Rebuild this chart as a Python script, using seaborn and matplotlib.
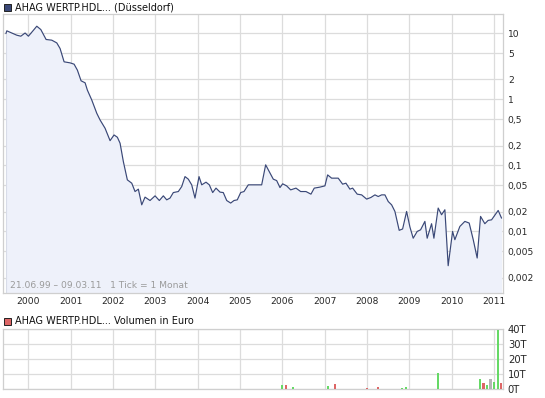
import matplotlib
matplotlib.use("Agg")
import matplotlib.pyplot as plt
from matplotlib.patches import Rectangle
import seaborn as sns
import pandas as pd

# ---------------- data ----------------
price_t = [1999.469, 1999.49, 1999.608, 1999.726, 1999.821, 1999.922, 2000.0, 2000.118, 2000.198,
           2000.293, 2000.418, 2000.552, 2000.67, 2000.748, 2000.843, 2000.984, 2001.079, 2001.157,
           2001.244, 2001.339, 2001.393, 2001.497, 2001.615, 2001.693, 2001.811, 2001.929, 2002.023,
           2002.101, 2002.165, 2002.243, 2002.337, 2002.441, 2002.519, 2002.597, 2002.677, 2002.755,
           2002.873, 2002.991, 2003.093, 2003.187, 2003.267, 2003.345, 2003.423, 2003.541, 2003.621,
           2003.699, 2003.777, 2003.857, 2003.935, 2004.03, 2004.094, 2004.195, 2004.273, 2004.353,
           2004.431, 2004.526, 2004.603, 2004.684, 2004.778, 2004.856, 2004.934, 2005.014, 2005.092,
           2005.194, 2005.51, 2005.604, 2005.689, 2005.784, 2005.864, 2005.942, 2006.006, 2006.1,
           2006.195, 2006.32, 2006.431, 2006.556, 2006.674, 2006.752, 2006.886, 2007.004, 2007.068,
           2007.162, 2007.318, 2007.422, 2007.5, 2007.594, 2007.658, 2007.767, 2007.871, 2007.989,
           2008.09, 2008.185, 2008.263, 2008.343, 2008.421, 2008.499, 2008.579, 2008.657, 2008.758,
           2008.839, 2008.933, 2009.011, 2009.089, 2009.183, 2009.264, 2009.365, 2009.419, 2009.523,
           2009.578, 2009.679, 2009.759, 2009.837, 2009.915, 2010.019, 2010.073, 2010.191, 2010.309,
           2010.411, 2010.507, 2010.6, 2010.68, 2010.781, 2010.859, 2010.94, 2011.096, 2011.176]
price_v = [9.9, 10.9, 10.1, 9.36, 9.04, 10.1, 9.04, 11.1, 12.8,
           11.4, 8.06, 7.87, 7.16, 5.89, 3.70, 3.57, 3.41, 2.77,
           1.91, 1.78, 1.38, 0.976, 0.615, 0.487, 0.365, 0.237, 0.289,
           0.267, 0.217, 0.114, 0.0604, 0.0538, 0.0402, 0.0437, 0.0253, 0.0331,
           0.0294, 0.0346, 0.0294, 0.0346, 0.0301, 0.0320, 0.0388, 0.0402, 0.0478,
           0.0677, 0.0619, 0.0508, 0.0320, 0.0677, 0.0508, 0.0557, 0.0508, 0.0388,
           0.0453, 0.0394, 0.0388, 0.0294, 0.0269, 0.0294, 0.0301, 0.0388, 0.0402,
           0.0508, 0.0508, 0.102, 0.0805, 0.0619, 0.0589, 0.0462, 0.0526, 0.0490,
           0.0426, 0.0453, 0.0402, 0.0402, 0.0367, 0.0453, 0.0469, 0.0490, 0.0718,
           0.0641, 0.0641, 0.0520, 0.0538, 0.0437, 0.0453, 0.0367, 0.0358, 0.0309,
           0.0327, 0.0358, 0.0338, 0.0358, 0.0358, 0.0284, 0.0253, 0.0201, 0.0104,
           0.0109, 0.0201, 0.0117, 0.0079, 0.0100, 0.0106, 0.0142, 0.0079, 0.0131,
           0.0079, 0.0226, 0.0179, 0.0213, 0.00303, 0.0100, 0.0075, 0.0119, 0.0142,
           0.0134, 0.0075, 0.00396, 0.0169, 0.0131, 0.0147, 0.0150, 0.0208, 0.0159]

vol_t = [2005.985, 2006.079, 2006.244, 2007.068, 2007.236, 2007.99, 2008.248, 2008.817,
         2008.912, 2009.672, 2010.66, 2010.75, 2010.824, 2010.916, 2010.99, 2011.084, 2011.16]
vol_v = [2700, 2800, 1300, 2000, 3300, 700, 1300, 700,
         1300, 10700, 6700, 4000, 2700, 6700, 4700, 39300, 4000]
vol_dir = ["up", "down", "up", "up", "down", "down", "down", "up",
           "up", "up", "up", "down", "up", "flat", "up", "up", "down"]

years = list(range(2000, 2012))
price_ticks = [10, 5, 2, 1, 0.5, 0.2, 0.1, 0.05, 0.02, 0.01, 0.005, 0.002]
price_tick_labels = ["10", "5", "2", "1", "0,5", "0,2", "0,1", "0,05", "0,02", "0,01", "0,005", "0,002"]
vol_ticks = [0, 10000, 20000, 30000, 40000]
vol_tick_labels = ["0T", "10T", "20T", "30T", "40T"]

title_main = "AHAG WERTP.HDL... (Düsseldorf)"
title_vol = "AHAG WERTP.HDL... Volumen in Euro"
range_text = "21.06.99 \u2013 09.03.11   1 Tick = 1 Monat"

# ---------------- style ----------------
sns.set_style("white")
plt.rcParams["font.family"] = ["DejaVu Sans"]

W, H = 545, 398
fig = plt.figure(figsize=(W / 100, H / 100), dpi=100)

def px_axes(x0, y0, x1, y1):
    return fig.add_axes([x0 / W, 1 - y1 / H, (x1 - x0) / W, (y1 - y0) / H])

GRID = "#dcdcdc"
LINE = "#3a4877"
FILL = "#eef1fa"
FS = 6.6

xmin, xmax = 1999.40, 2011.21

# ---------------- price panel ----------------
ax = px_axes(3, 14, 503, 293)
df = pd.DataFrame({"t": price_t, "v": price_v})
ymin, ymax = 0.00117, 19.6
ax.set_yscale("log")
ax.fill_between(df["t"], df["v"], ymin, color=FILL, lw=0, zorder=1)
ax.plot([df["t"].iloc[0]] * 2, [ymin, df["v"].iloc[0]], color="#d8dce8", lw=0.8, zorder=1)
sns.lineplot(data=df, x="t", y="v", ax=ax, color=LINE, lw=0.85, zorder=3)
ax.set_xlim(xmin, xmax)
ax.set_ylim(ymin, ymax)
ax.set_yticks(price_ticks)
ax.set_yticklabels(price_tick_labels)
ax.yaxis.set_minor_locator(matplotlib.ticker.NullLocator())
ax.set_xticks(years)
ax.set_xticklabels([str(y) for y in years])
ax.yaxis.tick_right()
ax.tick_params(axis="y", length=0, pad=3.5, labelsize=FS)
ax.tick_params(axis="x", length=0, pad=3, labelsize=FS)
for lab in ax.get_yticklabels():
    lab.set_horizontalalignment("left")
ax.grid(True, color=GRID, lw=0.9, zorder=0)
ax.set_axisbelow(True)
ax.set_xlabel("")
ax.set_ylabel("")
for s in ax.spines.values():
    s.set_color("#cfcfcf")
    s.set_linewidth(0.9)
ax.text(7 / 500, 1 - (285 - 14) / 279, range_text, transform=ax.transAxes,
        fontsize=FS, color="#9a9a9a", va="center", ha="left", zorder=4)

# ---------------- volume panel ----------------
vx = px_axes(3, 329.3, 503, 389)
colors = {"up": "#66d966", "down": "#dd6666", "flat": "#b4b4b4"}
for t, v, d in zip(vol_t, vol_v, vol_dir):
    vx.bar(t, v, width=0.05, color=colors[d], lw=0, zorder=3)
vx.set_xlim(xmin, xmax)
vx.set_ylim(0, 40000)
vx.set_yticks(vol_ticks)
vx.set_yticklabels(vol_tick_labels)
vx.set_xticks(years)
vx.set_xticklabels([])
vx.yaxis.tick_right()
vx.tick_params(axis="y", length=0, pad=3.5, labelsize=FS + 0.6)
vx.tick_params(axis="x", length=0)
for lab in vx.get_yticklabels():
    lab.set_horizontalalignment("left")
vx.grid(True, color=GRID, lw=0.9, zorder=0)
vx.set_axisbelow(True)
for s in vx.spines.values():
    s.set_color("#cfcfcf")
    s.set_linewidth(0.9)

# ---------------- legend squares / titles ----------------
fig.add_artist(Rectangle((4 / W, 1 - 10.5 / H), 6.5 / W, 6.5 / H, transform=fig.transFigure,
                         facecolor="#3a4877", edgecolor="#222222", lw=0.7))
fig.text(15 / W, 1 - 7 / H, title_main, fontsize=FS + 0.4, va="center", ha="left", color="#111111")
fig.add_artist(Rectangle((4 / W, 1 - 324.5 / H), 6.5 / W, 6.5 / H, transform=fig.transFigure,
                         facecolor="#dd6666", edgecolor="#222222", lw=0.7))
fig.text(15 / W, 1 - 321 / H, title_vol, fontsize=FS + 0.4, va="center", ha="left", color="#111111")

fig.savefig("out.png", dpi=100)
